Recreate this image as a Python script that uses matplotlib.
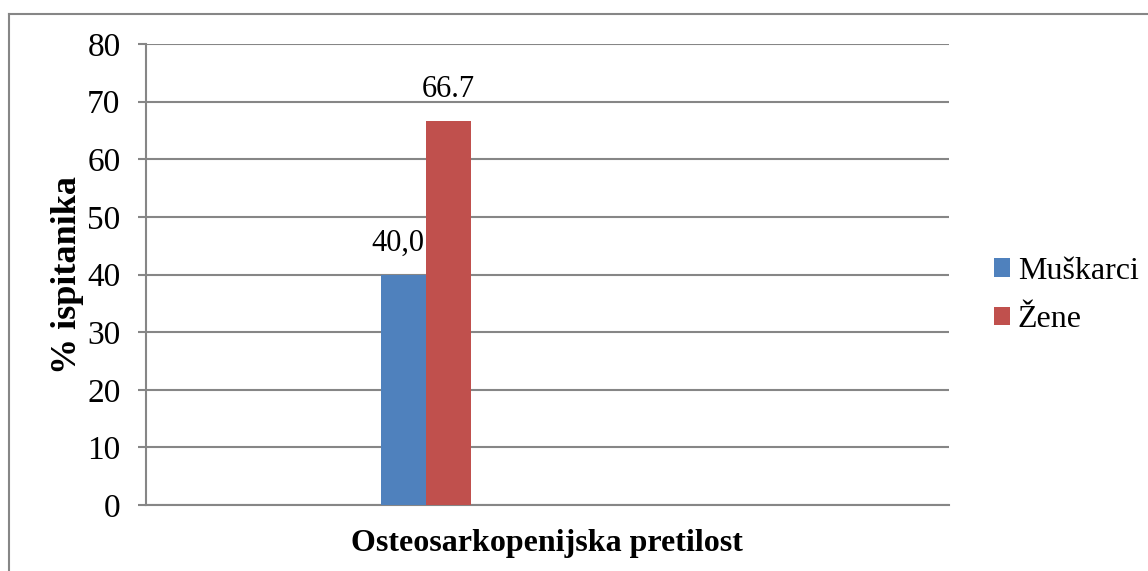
import matplotlib.pyplot as plt
from matplotlib.lines import Line2D

plt.rcParams['font.family'] = ['Liberation Serif', 'DejaVu Serif']

category = "Osteosarkopenijska pretilost"
series = ["Muškarci", "Žene"]
values = [40.0, 66.7]
value_labels = ["40,0", "66.7"]
colors = ["#4f81bd", "#c0504d"]
yticks = [0, 10, 20, 30, 40, 50, 60, 70, 80]

fig = plt.figure(figsize=(11.48, 5.71), dpi=100)
ax = fig.add_axes([145.5 / 1148, 1 - 505 / 571, (949 - 145.5) / 1148, (505 - 44) / 571])

# bars sit left of the category centre, as in the original
bar_w = 0.056
group_left = 0.2934
for i, (s, v, lab, c) in enumerate(zip(series, values, value_labels, colors)):
    x = group_left + bar_w * (i + 0.5)
    ax.bar(x, v, width=bar_w, color=c, label=s, zorder=3)
    ax.annotate(lab, (x, v), xytext=(-4 if i == 0 else 0, 12), textcoords='offset points',
                ha='center', va='bottom', fontsize=22, zorder=4)

ax.set_xlim(0, 1)
ax.set_ylim(0, 80)
ax.set_yticks(yticks)
ax.set_xticks([0.5])
ax.set_xticklabels([category], fontsize=23, fontweight='bold')
ax.tick_params(axis='x', length=0, pad=17)
ax.tick_params(axis='y', length=6, width=1.5, color='#868686', labelsize=24, pad=12, direction='out')
ax.set_ylabel('% ispitanika', fontsize=26, fontweight='bold', labelpad=2)

ax.grid(axis='y', color='#868686', linewidth=1.5, zorder=0)
for side in ['top', 'right']:
    ax.spines[side].set_visible(False)
for side in ['left', 'bottom']:
    ax.spines[side].set_color('#868686')
    ax.spines[side].set_linewidth(1.5)

leg = ax.legend(loc='center left', bbox_to_anchor=(1.02, 0.4545), frameon=False, fontsize=23,
                handlelength=0.5, handleheight=0.5, handletextpad=0.25, labelspacing=0.6)

# outer chart frame (only top and left are visible in the reference)
fig.add_artist(Line2D([8.5 / 1148, 8.5 / 1148], [0, 1 - 13.5 / 571], transform=fig.transFigure,
                      color='#868686', linewidth=1.5))
fig.add_artist(Line2D([8.5 / 1148, 1], [1 - 13.5 / 571, 1 - 13.5 / 571], transform=fig.transFigure,
                      color='#868686', linewidth=1.5))

fig.savefig('out.png', dpi=100)
